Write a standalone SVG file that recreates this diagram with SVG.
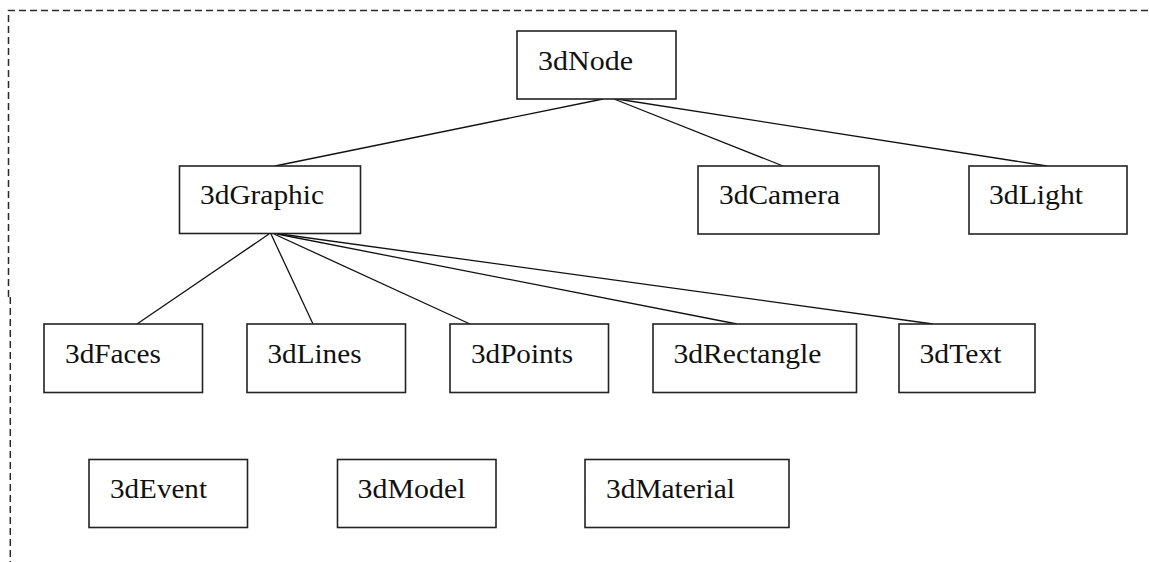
<svg xmlns="http://www.w3.org/2000/svg" width="1149" height="562" viewBox="0 0 1149 562">
  <style>
    .frame { fill: none; stroke: #2a2a2a; stroke-width: 1.5; stroke-dasharray: 7 4; }
    .box { fill: #fff; stroke: #222; stroke-width: 1.6; }
    .label { font-family: "Liberation Serif", "Times New Roman", serif; font-size: 27px; fill: #111; }
    .link { stroke: #111; stroke-width: 1.3; fill: none; }
  </style>
  <rect width="1149" height="562" fill="#fff"/>

  <!-- dashed frame around the hierarchy -->
  <g id="frame">
    <path class="frame" d="M8.5 297 V10.5 H1149"/>
    <path class="frame" d="M10.3 297 V562"/>
  </g>

  <!-- parent-child connectors -->
  <g id="connectors">
    <line class="link" x1="603" y1="99" x2="275" y2="166"/>
    <line class="link" x1="614" y1="99" x2="783" y2="166"/>
    <line class="link" x1="617" y1="99" x2="1047" y2="166"/>
    <line class="link" x1="269" y1="234" x2="137" y2="324"/>
    <line class="link" x1="271" y1="234" x2="313" y2="324"/>
    <line class="link" x1="274" y1="234" x2="470" y2="324"/>
    <line class="link" x1="277" y1="234" x2="737" y2="324"/>
    <line class="link" x1="280" y1="234" x2="933" y2="324"/>
  </g>

  <g id="node-3dNode">
    <rect class="box" x="517" y="31" width="159" height="68"/>
    <text class="label" x="538" y="69.5" textLength="95" lengthAdjust="spacingAndGlyphs">3dNode</text>
  </g>
  <g id="node-3dGraphic">
    <rect class="box" x="179.5" y="166" width="181" height="67.5"/>
    <text class="label" x="200" y="204" textLength="124" lengthAdjust="spacingAndGlyphs">3dGraphic</text>
  </g>
  <g id="node-3dCamera">
    <rect class="box" x="698" y="166" width="181" height="68"/>
    <text class="label" x="719" y="204" textLength="121" lengthAdjust="spacingAndGlyphs">3dCamera</text>
  </g>
  <g id="node-3dLight">
    <rect class="box" x="969" y="166" width="158" height="68"/>
    <text class="label" x="989" y="204" textLength="94" lengthAdjust="spacingAndGlyphs">3dLight</text>
  </g>

  <g id="node-3dFaces">
    <rect class="box" x="44" y="324" width="158.5" height="68.5"/>
    <text class="label" x="65" y="362.5" textLength="96" lengthAdjust="spacingAndGlyphs">3dFaces</text>
  </g>
  <g id="node-3dLines">
    <rect class="box" x="247" y="324" width="158.5" height="68.5"/>
    <text class="label" x="267.5" y="362.5" textLength="94" lengthAdjust="spacingAndGlyphs">3dLines</text>
  </g>
  <g id="node-3dPoints">
    <rect class="box" x="450" y="324" width="158.5" height="68.5"/>
    <text class="label" x="471" y="362.5" textLength="102" lengthAdjust="spacingAndGlyphs">3dPoints</text>
  </g>
  <g id="node-3dRectangle">
    <rect class="box" x="653" y="324" width="203.5" height="68.5"/>
    <text class="label" x="673.5" y="362.5" textLength="148" lengthAdjust="spacingAndGlyphs">3dRectangle</text>
  </g>
  <g id="node-3dText">
    <rect class="box" x="899" y="324" width="136" height="68.5"/>
    <text class="label" x="919.5" y="362.5" textLength="82" lengthAdjust="spacingAndGlyphs">3dText</text>
  </g>

  <g id="node-3dEvent">
    <rect class="box" x="89" y="459.5" width="158.5" height="68"/>
    <text class="label" x="110" y="497.5" textLength="97" lengthAdjust="spacingAndGlyphs">3dEvent</text>
  </g>
  <g id="node-3dModel">
    <rect class="box" x="337.5" y="459.5" width="158.5" height="68"/>
    <text class="label" x="357.5" y="497.5" textLength="108" lengthAdjust="spacingAndGlyphs">3dModel</text>
  </g>
  <g id="node-3dMaterial">
    <rect class="box" x="585" y="459.5" width="204" height="68"/>
    <text class="label" x="606" y="497.5" textLength="129" lengthAdjust="spacingAndGlyphs">3dMaterial</text>
  </g>
</svg>
